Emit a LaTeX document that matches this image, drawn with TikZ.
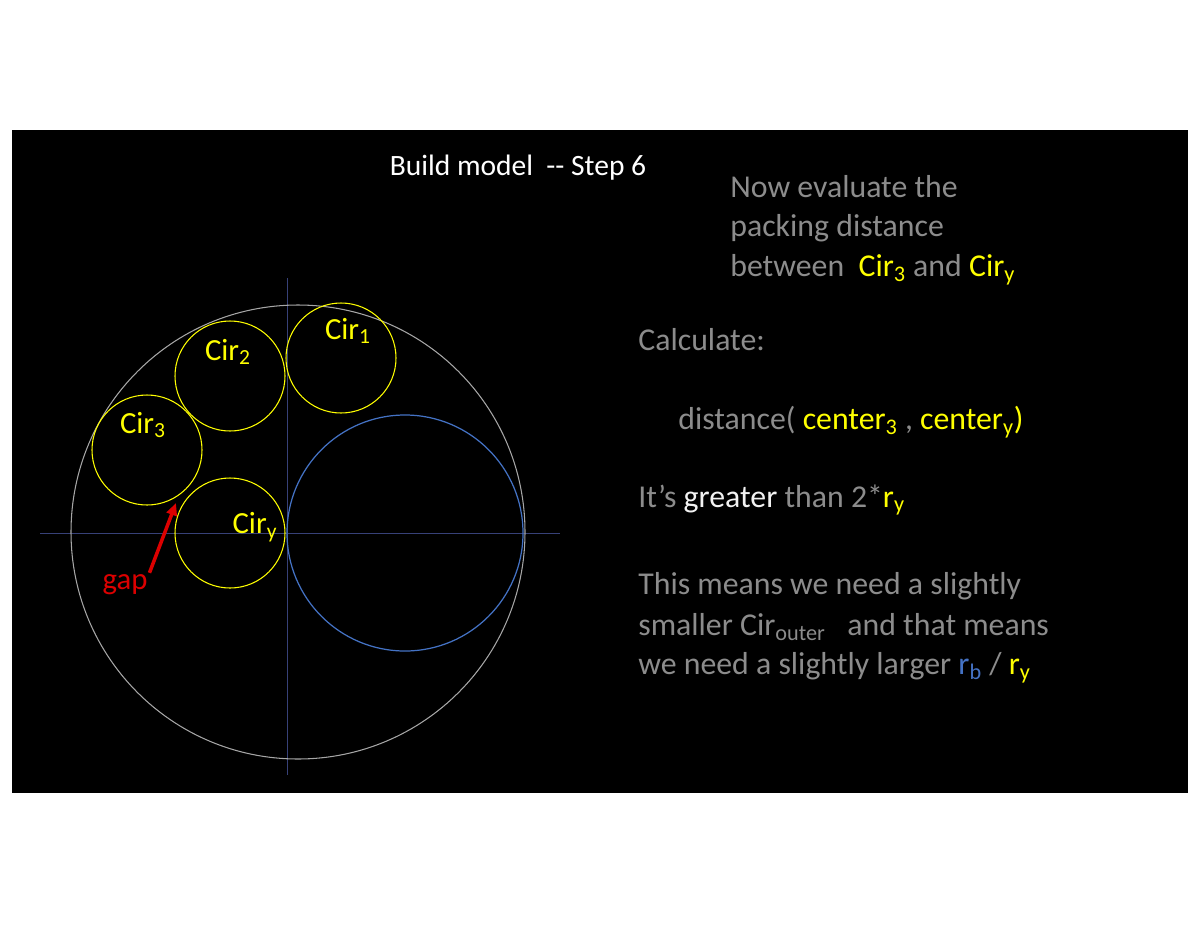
\documentclass[tikz,border=0pt]{standalone}
\usepackage{fontspec}
\setmainfont{Carlito}
\usetikzlibrary{arrows.meta}
\definecolor{txtgray}{RGB}{140,140,140}
\definecolor{cyel}{RGB}{255,255,0}
\definecolor{cblue}{RGB}{68,114,196}
\definecolor{axisc}{RGB}{55,65,120}
\definecolor{gapred}{RGB}{220,0,0}
\tikzset{
  lbl/.style = {text = cyel, font = \fontsize{17.5}{20}\selectfont, inner sep = 0pt},
  line/.style = {anchor = west, text = txtgray, font = \fontsize{18.1}{21}\selectfont, inner sep = 0pt},
  ycirc/.style = {draw = cyel, line width = 0.6pt}
}
\begin{document}
\begin{tikzpicture}[x = 0.02cm, y = -0.02cm]
\useasboundingbox (0,0) rectangle (1200, 927);
\fill[white] (0,0) rectangle (1200, 927);
\fill[black] (12, 130) rectangle (1188, 793);

% axes and circles
\draw[axisc, line width = 0.5pt] (40, 533) -- (560, 533);
\draw[axisc, line width = 0.5pt] (287, 278) -- (287, 775);
\draw[gray!70, line width = 0.6pt] (298, 532) circle (227);
\draw[cblue, line width = 0.7pt] (405, 533) circle (118);

\foreach \cx/\cy in {341/358, 230/376, 147/450, 230/533} {
	\draw[ycirc] (\cx, \cy) circle (55);
}

\node[lbl] (C1) at (348, 331) {Cir\textsubscript{1}};
\node[lbl] (C2) at (228, 352) {Cir\textsubscript{2}};
\node[lbl] (C3) at (143, 425) {Cir\textsubscript{3}};
\node[lbl] (Cy) at (255, 527) {Cir\textsubscript{y}};

\node[text = gapred, font = \fontsize{17.5}{20}\selectfont, inner sep = 1pt] (G) at (125, 585) {gap};
\coordinate (Gtip) at (176, 503);
\draw[-{Triangle[length = 7pt, width = 6pt]}, gapred, line width = 2pt] (G.north east) -- (Gtip);

% texts
\node[text = white, font = \fontsize{16.8}{19}\selectfont] (T) at (518, 168) {Build model \ {-}{-} Step 6};

\node[line] (L1) at (730, 187) {Now evaluate the};
\node[line] (L2) at (730, 228) {packing distance};
\node[line] (L3) at (730, 270) {between \ \textcolor{cyel}{Cir\textsubscript{3}} and \textcolor{cyel}{Cir\textsubscript{y}}};
\node[line] (L4) at (638, 340) {Calculate:};
\node[line] (L5) at (678, 422) {distance( \textcolor{cyel}{center\textsubscript{3}} , \textcolor{cyel}{center\textsubscript{y})}};
\node[line] (L6) at (638, 500) {It’s \textcolor{white!90!gray}{greater} than 2*\textcolor{cyel}{r\textsubscript{y}}};
\node[line] (L7) at (638, 586) {This means we need a slightly};
\node[line] (L8) at (638, 627) {smaller Cir\textsubscript{outer} \ \ and that means};
\node[line] (L9) at (638, 668) {we need a slightly larger \textcolor{cblue}{r\textsubscript{b}} / \textcolor{cyel}{r\textsubscript{y}}};
\end{tikzpicture}
\end{document}
